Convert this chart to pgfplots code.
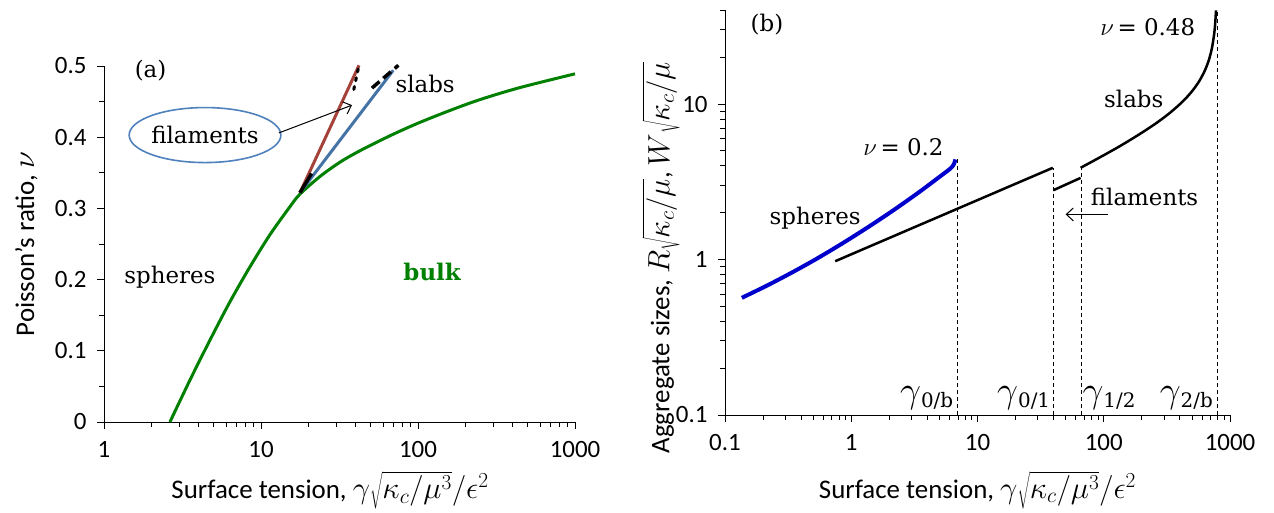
\documentclass[border=0pt]{standalone}
\usepackage{fontspec}
\setmainfont{Carlito}
\newfontfamily\serif{DejaVu Serif}
\usepackage{graphicx}
\usepackage{pgfplots}
\pgfplotsset{compat=1.18}
\usetikzlibrary{shapes.geometric,arrows.meta}
\definecolor{bulkgreen}{RGB}{0,128,0}
\definecolor{filred}{RGB}{164,66,58}
\definecolor{slabblue}{RGB}{70,115,165}
\definecolor{ellblue}{RGB}{79,129,189}
\definecolor{sphblue}{RGB}{0,0,205}
\newcommand\fsz{\fontsize{25}{29}\selectfont}
\newcommand\lsz{\fontsize{27}{31}\selectfont}
\newcommand\tsz{\fontsize{23}{27}\selectfont\serif}
\newcommand\mth[1]{{\fontsize{24}{24}\selectfont\scalebox{1.24}{$#1$}}}
\newcommand\glab[1]{{\fontsize{24}{24}\selectfont\scalebox{1.5}{$\gamma$}}\raisebox{-5bp}{\fontsize{20}{20}\serif #1}}
\pgfplotsset{
  myaxis/.style={
    scale only axis,
    axis x line*=bottom, axis y line*=left,
    tick align=outside,
    major tick length=7bp, minor tick length=5bp,
    every tick/.style={black, line width=0.8bp},
    axis line style={black, line width=0.8bp},
    tick label style={font=\fsz},
    xticklabel style={yshift=-9bp},
    yticklabel style={xshift=-7bp},
    label style={font=\lsz},
    /pgf/number format/assume math mode=true,
    /pgf/number format/1000 sep={},
    clip=false,
  }
}
\begin{document}
\begin{tikzpicture}
% ---------------- panel (a)
\begin{axis}[myaxis,
  at={(104bp,91bp)}, anchor=south west,
  width=471bp, height=356bp,
  xmode=log, xmin=1, xmax=1000,
  ymin=0, ymax=0.5,
  ytick={0,0.1,0.2,0.3,0.4,0.5},
  minor y tick num=1,
  log ticks with fixed point,
  yticklabel style={/pgf/number format/.cd, fixed, precision=1},
  xlabel={Surface tension, \mth{\gamma\sqrt{\kappa_c/\mu^3}/\epsilon^2}},
  ylabel={Poisson's ratio, \mth{\nu}},
  xlabel style={at={(axis description cs:0.48,-0.215)}, anchor=base},
  ylabel style={at={(axis description cs:-0.165,0.5)}, anchor=center},
]
\addplot[bulkgreen, line width=3bp, smooth] coordinates {
(2.63,0) (3.53,0.059) (4.73,0.115) (6.35,0.169) (8.51,0.218) (11.4,0.263)
(15.3,0.3025) (17.7,0.320) (23.8,0.345) (31.9,0.365) (42.7,0.381) (66.3,0.402)
(100,0.4197) (160,0.4376) (248,0.4528) (446,0.4697) (1000,0.489)};
\addplot[filred, line width=3bp] coordinates {(17.7,0.322) (42.1,0.501)};
\addplot[slabblue, line width=3bp] coordinates {(17.7,0.322) (69.6,0.494)};
\addplot[black, line width=3.5bp] coordinates {(17.7,0.322) (21,0.349)};
\addplot[black, line width=3bp, dash pattern=on 3bp off 6bp, line cap=round] coordinates {(39.0,0.467) (42.1,0.501)};
\addplot[black, line width=3.5bp, dash pattern=on 10bp off 5bp] coordinates {(50.9,0.469) (75,0.501)};
\node[font=\tsz] at (axis cs:1.98,0.494) {(a)};
\node[font=\tsz, draw=ellblue, line width=1.6bp, ellipse, minimum width=147bp, minimum height=55bp, inner sep=0pt] (fil) at (axis cs:4.4,0.403) {filaments};
\draw[black, line width=1bp, -{Straight Barb[length=7bp,width=13bp]}] (axis cs:13.0,0.406) -- (axis cs:38.0,0.445);
\node[font=\tsz] at (axis cs:111,0.475) {slabs};
\node[font=\tsz] at (axis cs:2.63,0.204) {spheres};
\node[font=\tsz\bfseries, text=bulkgreen] at (axis cs:123,0.211) {bulk};
\end{axis}
% ---------------- panel (b)
\begin{axis}[myaxis,
  at={(725bp,98bp)}, anchor=south west,
  width=505bp, height=404.6bp,
  xmode=log, ymode=log,
  xmin=0.1, xmax=1000, ymin=0.1, ymax=40,
  log ticks with fixed point,
  xlabel={Surface tension, \mth{\gamma\sqrt{\kappa_c/\mu^3}/\epsilon^2}},
  ylabel={Aggregate sizes, \mth{R\sqrt{\kappa_c/\mu}}, \mth{W\sqrt{\kappa_c/\mu}}},
  xlabel style={at={(axis description cs:0.5,-0.206)}, anchor=base},
  ylabel style={at={(axis description cs:-0.127,-0.104)}, anchor=west},
]
\addplot[black, line width=1bp, dash pattern=on 4bp off 3bp] coordinates {(6.93,0.1) (6.93,4.4)};
\addplot[black, line width=1bp, dash pattern=on 4bp off 3bp] coordinates {(39.9,0.1) (39.9,3.89)};
\addplot[black, line width=1bp, dash pattern=on 4bp off 3bp] coordinates {(66.5,0.1) (66.5,3.89)};
\addplot[black, line width=1bp, dash pattern=on 4bp off 3bp] coordinates {(790,0.1) (790,40)};
\addplot[sphblue, line width=4bp, smooth] coordinates {
(0.136,0.567) (0.216,0.681) (0.342,0.828) (0.542,1.02) (0.859,1.276) (1.36,1.616)
(2.16,2.075) (3.42,2.70) (4.83,3.33) (6.08,3.84) (6.5,4.1) (6.68,4.40)};
\addplot[black, line width=2.5bp] coordinates {(0.746,0.975) (39.5,3.89)};
\addplot[black, line width=2.5bp] coordinates {(39.9,2.79) (65.6,3.35)};
\addplot[black, line width=2.5bp, smooth] coordinates {
(65.6,3.89) (90,4.47) (130,5.28) (180,6.19) (250,7.36) (330,8.70) (420,10.34)
(500,12.07) (570,14.02) (630,16.33) (680,19.18) (720,22.99) (750,28.4) (765,33.8) (775,40)};
\node[font=\tsz] at (axis cs:0.215,32.5) {(b)};
\node[font=\tsz] at (axis cs:223,31) {$\nu$\,= 0.48};
\node[font=\tsz] at (axis cs:173,10.7) {slabs};
\node[font=\tsz] at (axis cs:2.59,5.25) {$\nu$\,= 0.2};
\node[font=\tsz] at (axis cs:0.518,1.84) {spheres};
\node[font=\tsz, anchor=west, inner sep=0pt] at (axis cs:78.9,2.54) {filaments};
\draw[black, line width=1bp, -{Straight Barb[length=7bp,width=13bp]}] (axis cs:107.6,1.95) -- (axis cs:49.9,1.95);
\node[anchor=base east, inner sep=0pt, xshift=-4bp] at (axis cs:6.93,0.12) {\glab{0/b}};
\node[anchor=base east, inner sep=0pt, xshift=-3bp] at (axis cs:39.9,0.12) {\glab{0/1}};
\node[anchor=base west, inner sep=0pt, xshift=1bp] at (axis cs:66.5,0.12) {\glab{1/2}};
\node[anchor=base east, inner sep=0pt, xshift=-4bp] at (axis cs:790,0.12) {\glab{2/b}};
\end{axis}
\pgfresetboundingbox
\path[use as bounding box] (0,0) rectangle (1274bp,513bp);
\end{tikzpicture}
\end{document}
